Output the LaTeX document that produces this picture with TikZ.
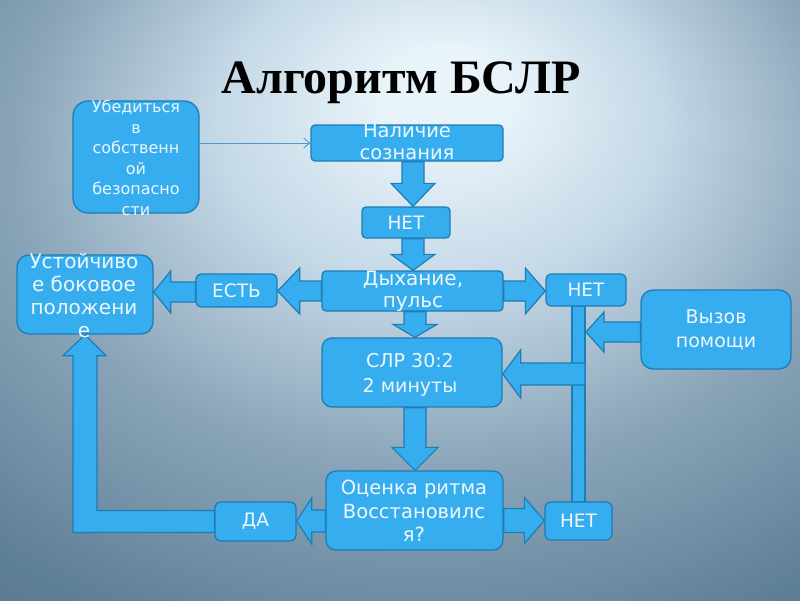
\documentclass[tikz,border=0pt]{standalone}
\usepackage{fontspec}
\setmainfont{DejaVu Sans}
\newfontfamily\tms{Liberation Serif}
\usetikzlibrary{calc,arrows.meta}
\definecolor{bgA}{HTML}{E8F3FA}
\definecolor{bgB}{HTML}{C4D8E6}
\definecolor{bgC}{HTML}{8AA5B9}
\definecolor{bgD}{HTML}{5F7F96}
\definecolor{bgE}{HTML}{48637A}
\definecolor{boxfill}{HTML}{36ADEE}
\definecolor{boxline}{HTML}{1F7DB5}
\definecolor{txtc}{HTML}{EEF7FD}
\definecolor{thinc}{HTML}{4A9AD0}
\pgfdeclareradialshading{bgshade}{\pgfpoint{3bp}{18bp}}{color(0bp)=(bgA);color(4bp)=(bgA);color(14bp)=(bgB);color(26bp)=(bgC);color(40bp)=(bgD);color(60bp)=(bgE);color(80bp)=(bgE)}
\newcommand{\fatarrow}[5]{%
  \coordinate (fa-hb) at ($(#2)!#5!(#1)$);
  \draw[arr] ($(#1)!#3!90:(#2)$) -- ($(fa-hb)!#3!90:(#2)$) -- ($(fa-hb)!#4!90:(#2)$) -- (#2)
    -- ($(fa-hb)!#4!-90:(#2)$) -- ($(fa-hb)!#3!-90:(#2)$) -- ($(#1)!#3!-90:(#2)$) -- cycle;}
\tikzset{
  box/.style={draw=boxline, fill=boxfill, line width=1.3pt, inner sep=0pt},
  txt/.style={text=txtc, align=center, inner sep=0pt},
  arr/.style={draw=boxline, fill=boxfill, line width=1.2pt, line join=miter},
  thinarrow/.style={draw=thinc, line width=0.9pt, -{Straight Barb[length=6pt,width=10pt]}}
}
\begin{document}
\begin{tikzpicture}[x=1pt,y=-1pt]
\useasboundingbox (0,0) rectangle (800,600);
\shade[shading=bgshade] (0,0) rectangle (800,600);

\node[font=\tms\bfseries\fontsize{48}{52}\selectfont, anchor=base] (title) at (401,93) {Алгоритм БСЛР};

% boxes
\node[box, rounded corners=15pt, minimum width=126pt, minimum height=112pt] (safe) at (136,157) {};
\node[box, rounded corners=4pt, minimum width=192pt, minimum height=36pt] (nal) at (407,143) {};
\node[box, rounded corners=4pt, minimum width=88pt, minimum height=31pt] (net1) at (406,222.5) {};
\node[box, rounded corners=4pt, minimum width=181pt, minimum height=40pt] (dyh) at (412.5,291) {};
\node[box, rounded corners=5pt, minimum width=81pt, minimum height=33pt] (est) at (236.5,290.5) {};
\node[box, rounded corners=12pt, minimum width=136pt, minimum height=79pt] (ust) at (85,294.5) {};
\node[box, rounded corners=5pt, minimum width=80pt, minimum height=32pt] (net2) at (586,290) {};
\node[box, rounded corners=12pt, minimum width=150pt, minimum height=79pt] (vyz) at (716,329.5) {};
\node[box, rounded corners=10pt, minimum width=180pt, minimum height=69pt] (slr) at (412,372.5) {};
\node[box, rounded corners=10pt, minimum width=177pt, minimum height=79pt] (oce) at (414.5,510.5) {};
\node[box, rounded corners=6pt, minimum width=81pt, minimum height=39pt] (da) at (255.5,521.5) {};
\node[box, rounded corners=6pt, minimum width=67pt, minimum height=38pt] (net3) at (578.5,521) {};

% connectors
\draw[thinarrow] ($(safe.east)+(0,-14)$) -- (nal.west);

\coordinate (a1s) at ($(nal.south)+(6,0)$);
\coordinate (a1e) at (a1s |- net1.north);
\fatarrow{a1s}{a1e}{11pt}{22pt}{23pt}

\coordinate (a2s) at ($(net1.south)+(7,0)$);
\coordinate (a2e) at (a2s |- dyh.north);
\fatarrow{a2s}{a2e}{11pt}{22pt}{16pt}

\coordinate (a3e) at (dyh.west -| est.east);
\fatarrow{dyh.west}{a3e}{10pt}{23pt}{22pt}

\coordinate (a4s) at ($(est.west)+(0,1.5)$);
\coordinate (a4e) at (a4s -| ust.east);
\fatarrow{a4s}{a4e}{10pt}{21pt}{17pt}

\coordinate (a5e) at (dyh.east -| net2.west);
\fatarrow{dyh.east}{a5e}{10pt}{23pt}{20pt}

\coordinate (a6s) at ($(dyh.south)+(2.5,0)$);
\coordinate (a6e) at (a6s |- slr.north);
\fatarrow{a6s}{a6e}{11pt}{22pt}{13pt}

\coordinate (a7s) at ($(slr.south)+(3,0)$);
\coordinate (a7e) at (a7s |- oce.north);
\fatarrow{a7s}{a7e}{11pt}{23pt}{23pt}

\coordinate (a8s) at ($(oce.west)+(0,10.5)$);
\coordinate (a8e) at (a8s -| da.east);
\fatarrow{a8s}{a8e}{11pt}{23pt}{15pt}

\coordinate (a9s) at ($(oce.east)+(0,10)$);
\coordinate (a9e) at (a9s -| net3.west);
\fatarrow{a9s}{a9e}{12pt}{23pt}{20pt}

% vertical bar
\coordinate (barL) at ($(net2.south)+(-14,0)$);
\coordinate (barR) at ($(net3.north)+(6.5,0)$);
\draw[arr] (barL) rectangle (barR);

\coordinate (a11e) at ($(slr.east)+(0,1.5)$);
\coordinate (a11s) at (a11e -| barR);
\fatarrow{a11s}{a11e}{11pt}{24pt}{18pt}

\coordinate (a12s) at ($(vyz.west)+(0,2.5)$);
\coordinate (a12e) at ($(a12s -| barR)+(1,0)$);
\fatarrow{a12s}{a12e}{10pt}{20pt}{18pt}

\draw[arr] let \p1=(da.west), \p2=(ust.south) in
  (\x1,\y1+11pt) -- (\x2+12pt,\y1+11pt) -- (\x2+12pt,\y2-21pt) -- (\x2+21pt,\y2-21pt)
  -- (\x2,\y2) -- (\x2-22pt,\y2-21pt) -- (\x2-12pt,\y2-21pt) -- (\x2-12pt,\y1-11pt)
  -- (\x1,\y1-11pt) -- cycle;

% texts
\node[txt, font=\fontsize{16}{20.5}\selectfont] (safeT) at (136,158) {Убедиться\\в\\собственн\\ой\\безопасно\\сти};
\node[txt, font=\fontsize{19.5}{22}\selectfont] (nalT) at (407,142) {Наличие\\сознания};
\node[txt, font=\fontsize{18.5}{22}\selectfont] (net1T) at (net1) {НЕТ};
\node[txt, font=\fontsize{20}{22}\selectfont] (dyhT) at (413,291) {Дыхание,\\пульс};
\node[txt, font=\fontsize{18.5}{22}\selectfont] (estT) at (est) {ЕСТЬ};
\node[txt, font=\fontsize{20}{23}\selectfont] (ustT) at (84,296) {Устойчиво\\е боковое\\положени\\е};
\node[txt, font=\fontsize{18.5}{22}\selectfont] (net2T) at (net2) {НЕТ};
\node[txt, font=\fontsize{19}{24}\selectfont] (vyzT) at (716,330) {Вызов\\помощи};
\node[txt, font=\fontsize{19}{25}\selectfont] (slrT) at (410,374.5) {СЛР 30:2\\2 минуты};
\node[txt, font=\fontsize{19.5}{23.5}\selectfont] (oceT) at (414,511) {Оценка ритма\\Восстановилс\\я?};
\node[txt, font=\fontsize{18.5}{22}\selectfont] (daT) at (da) {ДА};
\node[txt, font=\fontsize{18.5}{22}\selectfont] (net3T) at (net3) {НЕТ};
\end{tikzpicture}
\end{document}
